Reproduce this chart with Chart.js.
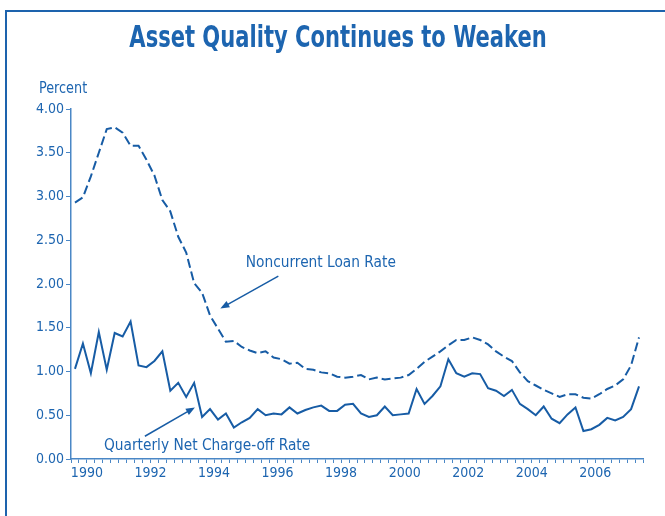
<!DOCTYPE html>
<html>
<head>
<meta charset="utf-8">
<script src="https://cdn.jsdelivr.net/npm/chart.js@4.4.1/dist/chart.umd.min.js"></script>
<style>
  html, body { margin: 0; padding: 0; background: #fff; }
  #wrap { position: relative; width: 665px; height: 516px; overflow: hidden; }
  #frame { position: absolute; left: 5px; top: 10px; width: 700px; height: 600px;
           border-top: 2px solid #1d63ad; border-left: 2px solid #1d63ad; }
  canvas { position: absolute; left: 0; top: 0; }
</style>
</head>
<body>
<div id="wrap">
  <div id="frame"></div>
  <canvas id="chart" width="665" height="516"></canvas>
</div>
<script>
// quarterly, 1990 Q1 .. 2007 Q4
const years = ["1990", "1992", "1994", "1996", "1998", "2000", "2002", "2004", "2006"];
const noncurrentRate = [
  2.93, 2.99, 3.23, 3.50, 3.77, 3.79, 3.73, 3.58, 3.58, 3.42, 3.24, 2.96,
  2.83, 2.54, 2.36, 2.01, 1.90, 1.64, 1.49, 1.34, 1.35, 1.28, 1.24, 1.21,
  1.23, 1.16, 1.14, 1.09, 1.10, 1.03, 1.02, 0.99, 0.98, 0.94, 0.93, 0.94,
  0.96, 0.91, 0.93, 0.91, 0.92, 0.93, 0.96, 1.03, 1.11, 1.17, 1.23, 1.30,
  1.36, 1.36, 1.39, 1.36, 1.31, 1.23, 1.17, 1.12, 0.99, 0.89, 0.84, 0.79,
  0.75, 0.71, 0.74, 0.74, 0.70, 0.69, 0.74, 0.80, 0.84, 0.91, 1.07, 1.39
];
const chargeOffRate = [
  1.03, 1.32, 0.98, 1.45, 1.02, 1.44, 1.40, 1.57, 1.07, 1.05, 1.12, 1.23,
  0.78, 0.87, 0.71, 0.87, 0.48, 0.57, 0.45, 0.52, 0.36, 0.42, 0.47, 0.57,
  0.50, 0.52, 0.51, 0.59, 0.52, 0.56, 0.59, 0.61, 0.55, 0.55, 0.62, 0.63,
  0.52, 0.48, 0.50, 0.60, 0.50, 0.51, 0.52, 0.80, 0.63, 0.72, 0.83, 1.14,
  0.98, 0.94, 0.98, 0.97, 0.81, 0.78, 0.72, 0.79, 0.63, 0.57, 0.50, 0.60,
  0.46, 0.41, 0.51, 0.59, 0.32, 0.34, 0.39, 0.47, 0.44, 0.48, 0.57, 0.83
];

const lineBlue = "#175ca5";
const textBlue = "#1d65b0";
const axisBlue = "#4a87c6";
const narrow = "'Liberation Sans Narrow', 'Arial Narrow', 'DejaVu Sans Condensed', sans-serif";

// callout text + arrow, in data units (quarter index, percent)
const notes = [
  { text: "Noncurrent Loan Rate", at: [21.5, 2.24], from: [25.6, 2.09], to: [18.3, 1.72] },
  { text: "Quarterly Net Charge-off Rate", at: [3.65, 0.155], from: [8.8, 0.26], to: [15.1, 0.59] }
];

// draws text squeezed horizontally, the source uses a condensed face
function squeezed(ctx, text, cx, cy, sx) {
  ctx.save();
  ctx.translate(cx, cy);
  ctx.scale(sx, 1);
  ctx.fillText(text, 0, 0);
  ctx.restore();
}

const textPlugin = {
  id: "texts",
  afterDraw(chart) {
    const { ctx, scales: { x, y } } = chart;
    ctx.save();
    ctx.fillStyle = textBlue;
    ctx.font = "bold 30px " + narrow;
    ctx.textAlign = "center";
    ctx.textBaseline = "alphabetic";
    squeezed(ctx, "Asset Quality Continues to Weaken", 338, 47, 0.78);

    ctx.font = "15px " + narrow;
    ctx.textAlign = "left";
    ctx.textBaseline = "middle";
    squeezed(ctx, "Percent", 39, 89, 0.95);

    ctx.font = "16px " + narrow;
    ctx.strokeStyle = lineBlue;
    ctx.lineWidth = 1.5;
    notes.forEach(n => {
      ctx.fillStyle = textBlue;
      squeezed(ctx, n.text, x.getPixelForValue(n.at[0]), y.getPixelForValue(n.at[1]), 0.955);
      const x1 = x.getPixelForValue(n.from[0]), y1 = y.getPixelForValue(n.from[1]);
      const x2 = x.getPixelForValue(n.to[0]), y2 = y.getPixelForValue(n.to[1]);
      const a = Math.atan2(y2 - y1, x2 - x1);
      ctx.beginPath();
      ctx.moveTo(x1, y1);
      ctx.lineTo(x2 - 6 * Math.cos(a), y2 - 6 * Math.sin(a));
      ctx.stroke();
      ctx.fillStyle = lineBlue;
      ctx.beginPath();
      ctx.moveTo(x2, y2);
      ctx.lineTo(x2 - 9 * Math.cos(a) + 3.5 * Math.sin(a), y2 - 9 * Math.sin(a) - 3.5 * Math.cos(a));
      ctx.lineTo(x2 - 9 * Math.cos(a) - 3.5 * Math.sin(a), y2 - 9 * Math.sin(a) + 3.5 * Math.cos(a));
      ctx.closePath();
      ctx.fill();
    });
    ctx.restore();
  }
};

new Chart(document.getElementById("chart"), {
  type: "line",
  data: {
    datasets: [
      {
        label: "Noncurrent Loan Rate",
        data: noncurrentRate.map((v, i) => ({ x: i, y: v })),
        borderColor: lineBlue,
        borderWidth: 2,
        borderDash: [9, 4],
        pointRadius: 0,
        tension: 0
      },
      {
        label: "Quarterly Net Charge-off Rate",
        data: chargeOffRate.map((v, i) => ({ x: i, y: v })),
        borderColor: lineBlue,
        borderWidth: 2,
        pointRadius: 0,
        tension: 0
      }
    ]
  },
  options: {
    responsive: false,
    animation: false,
    layout: { padding: { top: 109, right: 22, bottom: 27, left: 0 } },
    plugins: { legend: { display: false }, tooltip: { enabled: false } },
    scales: {
      x: {
        type: "linear",
        min: -0.5,
        max: 71.5,
        afterBuildTicks: s => {
          s.ticks = [];
          for (let k = 0; k <= 72; k++) s.ticks.push({ value: k - 0.5 });
        },
        afterFit: s => { s.height = 30; },
        grid: { drawOnChartArea: false, tickLength: 4, color: axisBlue, lineWidth: 1 },
        border: { color: axisBlue, width: 1.5 },
        ticks: {
          autoSkip: false,
          maxRotation: 0,
          padding: 2,
          color: textBlue,
          font: { family: narrow, size: 14 },
          callback: v => {
            const q = v - 1.5;
            return q >= 0 && q % 8 === 0 ? years[q / 8] : "";
          }
        }
      },
      y: {
        min: 0,
        max: 4,
        afterFit: s => { s.width = 71; },
        grid: { drawOnChartArea: false, tickLength: 5, color: axisBlue },
        border: { color: axisBlue, width: 1.5 },
        ticks: {
          stepSize: 0.5,
          padding: 2,
          color: textBlue,
          font: { family: narrow, size: 14 },
          callback: v => v.toFixed(2)
        }
      }
    }
  },
  plugins: [textPlugin]
});
</script>
</body>
</html>
